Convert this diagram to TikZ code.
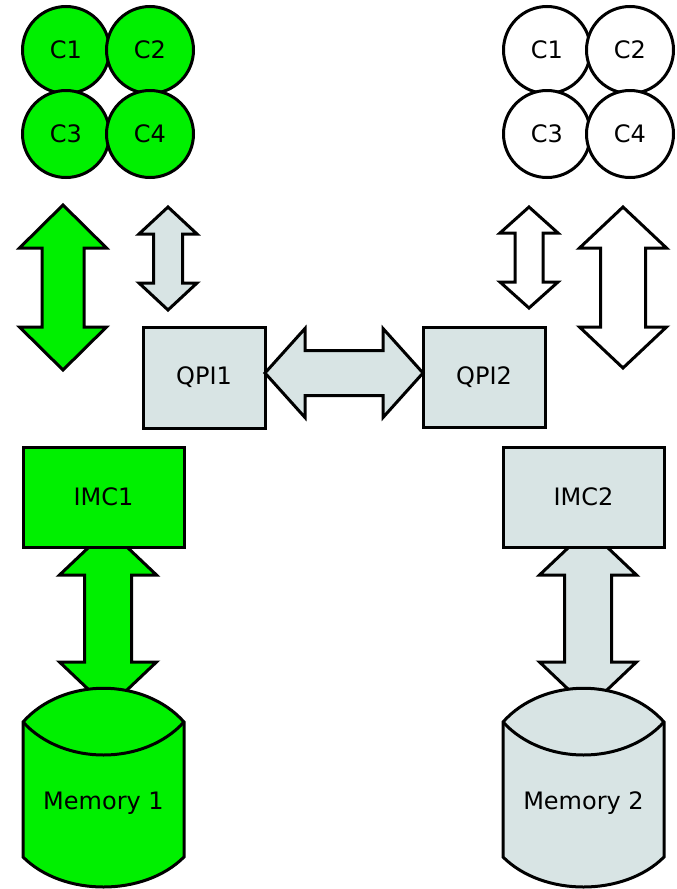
\documentclass[tikz,border=0pt]{standalone}
\usepackage{fontspec}
\setmainfont{DejaVu Sans}
\definecolor{cgreen}{HTML}{00F000}
\definecolor{cgray}{HTML}{D8E4E4}
\tikzset{
  outl/.style={draw=black,line width=3pt,line join=miter},
  box/.style={outl,rectangle,minimum width=#1,inner sep=0pt},
  core/.style={outl,circle,minimum size=87pt,inner sep=0pt},
  lbl/.style={font=\fontsize{24}{28}\selectfont}
}
% vertical double block arrow: cx, ytop, ybot, half head, half shaft, head length, fill
\newcommand\vdbl[7]{%
  \draw[outl,fill=#7] (#1,#2) -- ++(#4,#6) -- ({#1+#5},{#2+#6}) -- ({#1+#5},{#3-#6}) -- ({#1+#4},{#3-#6}) -- (#1,#3)
   -- ({#1-#4},{#3-#6}) -- ({#1-#5},{#3-#6}) -- ({#1-#5},{#2+#6}) -- ({#1-#4},{#2+#6}) -- cycle;}
\newcommand\hdbl[7]{%
  \draw[outl,fill=#7] (#2,#1) -- ({#2+#6},{#1-#4}) -- ({#2+#6},{#1-#5}) -- ({#3-#6},{#1-#5}) -- ({#3-#6},{#1-#4}) -- (#3,#1)
   -- ({#3-#6},{#1+#4}) -- ({#3-#6},{#1+#5}) -- ({#2+#6},{#1+#5}) -- ({#2+#6},{#1+#4}) -- cycle;}
% cylinder: x left, x right, y rim top, y rim bottom
\newcommand\cyl[5]{%
  \draw[outl,fill=#5] (#1,#3) -- (#1,#4) .. controls ({#1+40},{#4+40}) and ({#2-40},{#4+40}) .. (#2,#4)
    -- (#2,#3) .. controls ({#2-40},{#3-45}) and ({#1+40},{#3-45}) .. (#1,#3) -- cycle;
  \draw[outl] (#1,#3) .. controls ({#1+40},{#3+44}) and ({#2-40},{#3+44}) .. (#2,#3);}
\begin{document}
\begin{tikzpicture}[x=1pt,y=-1pt,lbl]
\useasboundingbox (0,0) rectangle (677,889);
% left cores
\node[core,fill=cgreen] (lc1) at (66,50) {C1};
\node[core,fill=cgreen] (lc2) at (150,50) {C2};
\node[core,fill=cgreen] (lc3) at (66,134) {C3};
\node[core,fill=cgreen] (lc4) at (150,134) {C4};
% right cores
\node[core,fill=white] (rc1) at (547,50) {C1};
\node[core,fill=white] (rc2) at (630,50) {C2};
\node[core,fill=white] (rc3) at (547,134) {C3};
\node[core,fill=white] (rc4) at (630,134) {C4};
% vertical arrows top
\vdbl{63}{205}{370}{43.5}{21}{43}{cgreen}
\vdbl{168}{207}{310}{29}{14.5}{27}{cgray}
\vdbl{529}{207}{308}{29}{14}{26}{white}
\vdbl{623}{207}{368}{43.5}{22.5}{41}{white}
% memory arrows (drawn below boxes)
\vdbl{108}{529}{708}{48.5}{23.5}{46}{cgreen}
\vdbl{588}{529}{708}{48.5}{23.5}{46}{cgray}
% QPI
\node[box=122pt,minimum height=101pt,fill=cgray] (qpi1) at (204,377.5) {QPI1};
\node[box=122pt,minimum height=100pt,fill=cgray] (qpi2) at (484,377.5) {QPI2};
\hdbl{373}{265}{423}{44.5}{22.5}{40}{cgray}
% IMC
\node[box=161pt,minimum height=100pt,fill=cgreen] (imc1) at (103.5,497) {IMC1};
\node[box=161pt,minimum height=100pt,fill=cgray] (imc2) at (583.5,497) {IMC2};
% memories
\cyl{23}{184}{722}{857}{cgreen}
\node (mem1) at (103.5,803) {Memory 1};
\cyl{503}{664}{722}{857}{cgray}
\node (mem2) at (583.5,803) {Memory 2};
\end{tikzpicture}
\end{document}
